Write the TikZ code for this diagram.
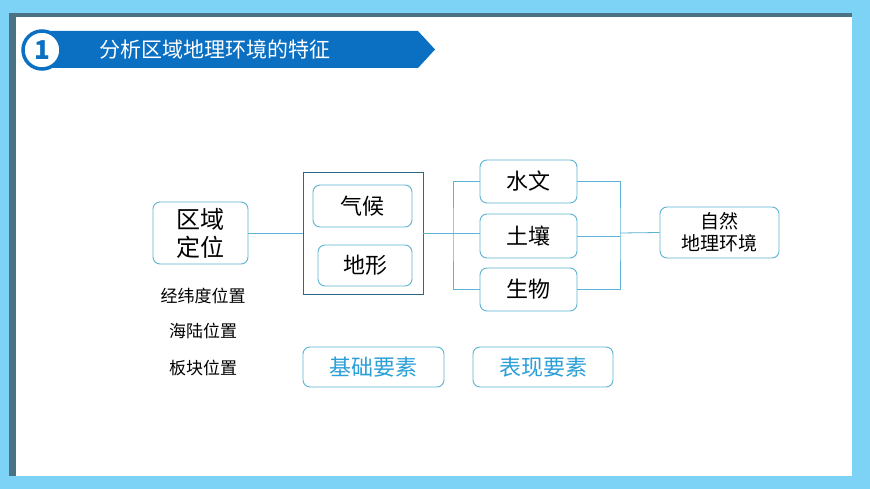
\documentclass[tikz,border=0pt]{standalone}
\usepackage{fontspec}
\setmainfont{Noto Sans CJK SC}
\definecolor{bgblue}{HTML}{7DD3F5}
\definecolor{shadow}{HTML}{4A7283}
\definecolor{bandblue}{HTML}{0B6FC2}
\definecolor{boxline}{HTML}{5CB3D3}
\definecolor{bigline}{HTML}{2E6784}
\definecolor{tblue}{HTML}{2A9FD8}
\tikzset{
 rbox/.style={draw=boxline, line width=0.9pt, rounded corners=7pt, align=center, inner sep=0pt},
 conn/.style={draw=boxline, line width=0.8pt},
 lbl/.style={font=\fontsize{17}{19}\selectfont}
}
\begin{document}
\begin{tikzpicture}[x=1pt,y=-1pt]
\fill[bgblue] (0,0) rectangle (870,489);
\useasboundingbox (0,0) rectangle (870,489);
\fill[shadow] (9,13) rectangle (852,476);
\fill[white] (16,17) rectangle (852,476);
% banner
\fill[bandblue] (42,31) -- (418,31) -- (435,49.5) -- (418,68) -- (42,68) -- cycle;
\node[circle, draw=bandblue, line width=3.5pt, fill=white, minimum size=38pt, inner sep=0pt,
 font=\fontsize{26}{26}\selectfont\bfseries, text=bandblue] (num) at (42,50) {1};
\node[anchor=west, text=white, font=\fontsize{21}{24}\selectfont] (title) at (96,49) {分析区域地理环境的特征};
% nodes
\node[rbox, minimum width=95pt, minimum height=62pt, font=\fontsize{24}{28}\selectfont] (qy) at (200.5,233) {区域\\定位};
\node[draw=bigline, line width=0.9pt, minimum width=120pt, minimum height=122pt, inner sep=0pt] (big) at (363,233) {};
\node[rbox, minimum width=99pt, minimum height=42pt, font=\fontsize{22}{24}\selectfont] (qh) at (362.5,206) {气候};
\node[rbox, minimum width=94pt, minimum height=41pt, font=\fontsize{22}{24}\selectfont] (dx) at (365,265.5) {地形};
\node[rbox, minimum width=97pt, minimum height=43pt, font=\fontsize{22}{24}\selectfont] (sw) at (528.5,181.5) {水文};
\node[rbox, minimum width=97pt, minimum height=44pt, font=\fontsize{22}{24}\selectfont] (tr) at (528.5,236) {土壤};
\node[rbox, minimum width=97pt, minimum height=43pt, font=\fontsize{22}{24}\selectfont] (sb) at (528.5,289.5) {生物};
\node[rbox, minimum width=119pt, minimum height=51pt, font=\fontsize{19}{22}\selectfont] (zr) at (719.5,232.5) {自然\\地理环境};
\node[rbox, minimum width=141pt, minimum height=40pt, text=tblue, font=\fontsize{22}{24}\selectfont] (jc) at (373.5,367) {基础要素};
\node[rbox, minimum width=140pt, minimum height=40pt, text=tblue, font=\fontsize{22}{24}\selectfont] (bx) at (543,367) {表现要素};
\node[lbl] (t1) at (203,296) {经纬度位置};
\node[lbl] (t2) at (203,331) {海陆位置};
\node[lbl] (t3) at (203,368) {板块位置};
% connectors
\coordinate (bl) at (453,233);
\coordinate (br) at (620,233);
\draw[conn] (qy.east) -- (big.west);
\draw[conn] (big.east) -- (bl);
\draw[conn] (sw.west) -| (bl) |- (sb.west);
\draw[conn] (bl) -- (bl -| tr.west);
\draw[conn] (sw.east) -| (br) |- (sb.east);
\draw[conn] (tr.east) -- (tr.east -| br);
\draw[conn] (br) -- (zr.west);
\end{tikzpicture}
\end{document}
